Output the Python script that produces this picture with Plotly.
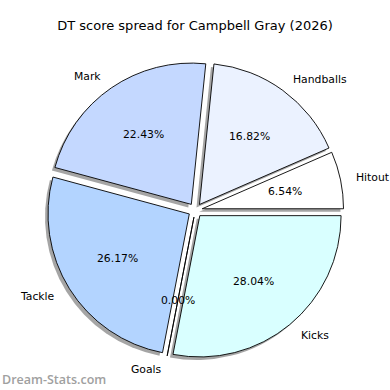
import math
import plotly.graph_objects as go

# ---- data ----
labels = ["Hitout", "Handballs", "Mark", "Tackle", "Goals", "Kicks"]
values = [7, 18, 24, 28, 0, 30]
colors = ["#ffffff", "#ebf2ff", "#c4d8ff", "#b3d4ff", "#c9e4ff", "#d9ffff"]
title_text = "DT score spread for Campbell Gray (2026)"
watermark = "Dream-Stats.com"

# ---- layout constants (pixels) ----
W = H = 390
CX, CY = 195.3, 210.2      # pie centre (from top-left)
R = 141.3                  # pie radius
EXPLODE = 0.05             # pull fraction
SHADOW = 3.0               # shadow offset px
LABEL_DIST = 1.1
PCT_DIST = 0.6
FONT = "DejaVu Sans"

total = sum(values)
rotation = 90 - 360 * values[0] / total


def domain(cx, cy):
    half = R * (1 + EXPLODE)
    return dict(x=[(cx - half) / W, (cx + half) / W],
                y=[1 - (cy + half) / H, 1 - (cy - half) / H])


fig = go.Figure()

# shadow
fig.add_trace(go.Pie(
    labels=labels, values=values, sort=False, direction="counterclockwise",
    rotation=rotation, pull=[EXPLODE] * len(values),
    marker=dict(colors=["rgba(40,40,40,0.42)"] * len(values), line=dict(width=0)),
    textinfo="none", hoverinfo="skip", showlegend=False,
    domain=domain(CX - SHADOW, CY + SHADOW),
))

# main pie
fig.add_trace(go.Pie(
    labels=labels, values=values, sort=False, direction="counterclockwise",
    rotation=rotation, pull=[EXPLODE] * len(values),
    marker=dict(colors=colors, line=dict(color="black", width=0.9)),
    textinfo="none", hoverinfo="label+percent", showlegend=False,
    domain=domain(CX, CY),
))

annotations = []
cum = 0.0
for lab, v in zip(labels, values):
    mid = math.radians((cum + v / 2) / total * 360)
    cum += v
    c, s = math.cos(mid), math.sin(mid)
    ex = CX + EXPLODE * R * c
    ey = CY - EXPLODE * R * s
    lx, ly = ex + LABEL_DIST * R * c, ey - LABEL_DIST * R * s
    px, py = ex + PCT_DIST * R * c, ey - PCT_DIST * R * s
    annotations.append(dict(
        x=lx / W, y=1 - ly / H, xref="paper", yref="paper", text=lab,
        showarrow=False, xanchor="left" if c > 0 else "right", yanchor="middle",
        font=dict(family=FONT, size=10.8, color="black")))
    annotations.append(dict(
        x=px / W, y=1 - py / H, xref="paper", yref="paper",
        text=f"{v / total * 100:.2f}%",
        showarrow=False, xanchor="center", yanchor="middle",
        font=dict(family=FONT, size=10.8, color="black")))

annotations.append(dict(
    x=0, y=1 - 379 / H, xref="paper", yref="paper", text=watermark,
    showarrow=False, xanchor="left", yanchor="middle",
    font=dict(family="Open Sans", size=12.5, color="#a0a0a0", weight=600)))

fig.update_layout(
    width=W, height=H, margin=dict(l=0, r=0, t=0, b=0),
    paper_bgcolor="white", plot_bgcolor="white",
    title=dict(text=title_text, x=0.5, xanchor="center", y=1 - 25 / H,
               yref="container", yanchor="middle",
               font=dict(family=FONT, size=13, color="black")),
    annotations=annotations,
)

fig.write_html("out.html",
               config={"displayModeBar": False},
               post_script="document.body.style.margin='0';"
                           "document.body.style.overflow='hidden';")
